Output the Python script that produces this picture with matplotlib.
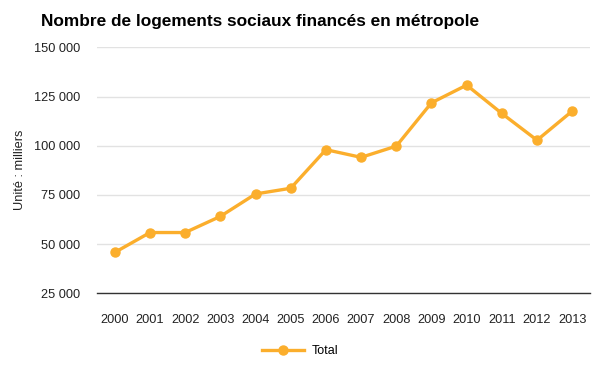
import matplotlib.pyplot as plt
from matplotlib import font_manager

plt.rcParams['font.family'] = ['Liberation Sans', 'DejaVu Sans']

annees = ['2000', '2001', '2002', '2003', '2004', '2005', '2006',
          '2007', '2008', '2009', '2010', '2011', '2012', '2013']
total = [45800, 55900, 55900, 64100, 75500, 78400, 98000,
         94100, 99800, 121800, 130800, 116400, 102800, 117600]
yticks = [25000, 50000, 75000, 100000, 125000, 150000]

couleur = '#FBAE2C'

# titre plus serré que l'Arial normal
noms = {f.name for f in font_manager.fontManager.ttflist}
titre_font = ['Liberation Sans Narrow', 'Liberation Sans', 'DejaVu Sans']
titre_font = [f for f in titre_font if f in noms]
titre_size = 14.8 if titre_font[0] == 'Liberation Sans Narrow' else 12.4

fig = plt.figure(figsize=(6, 3.8), dpi=100)
ax = fig.add_axes([0.162, 0.228, 0.821, 0.6475])

x = range(len(annees))
ax.plot(x, total, color=couleur, lw=2.4, marker='o', ms=6.5, label='Total',
        solid_joinstyle='round', zorder=3)

ax.set_xlim(-0.5, len(annees) - 0.5)
ax.set_ylim(25000, 150000)
ax.set_xticks(list(x))
ax.set_xticklabels(annees)
ax.set_yticks(yticks)
ax.set_yticklabels([f'{v:,}'.replace(',', ' ') for v in yticks])
ax.tick_params(length=0, labelsize=9.2, colors='#222222')
ax.tick_params(axis='x', pad=15)
ax.tick_params(axis='y', pad=12)
ax.grid(axis='y', color='#e2e2e2', lw=1)
ax.set_axisbelow(True)
for s in ['top', 'right', 'left']:
    ax.spines[s].set_visible(False)
ax.spines['bottom'].set_color('#333333')
ax.spines['bottom'].set_linewidth(1)

fig.text(20 / 600, 1 - 170 / 380, 'Unité : milliers', fontsize=9.2,
         color='#222222', rotation=90, ha='center', va='center')

fig.text(41 / 600, 1 - 26 / 380, 'Nombre de logements sociaux financés en métropole',
         fontsize=titre_size, fontweight='bold', ha='left', va='baseline',
         family=titre_font)

fig.legend(loc='center', bbox_to_anchor=(0.5, 0.076), frameon=False,
           fontsize=9, handlelength=3.4, handletextpad=0.6)

fig.savefig('out.png', dpi=100)
